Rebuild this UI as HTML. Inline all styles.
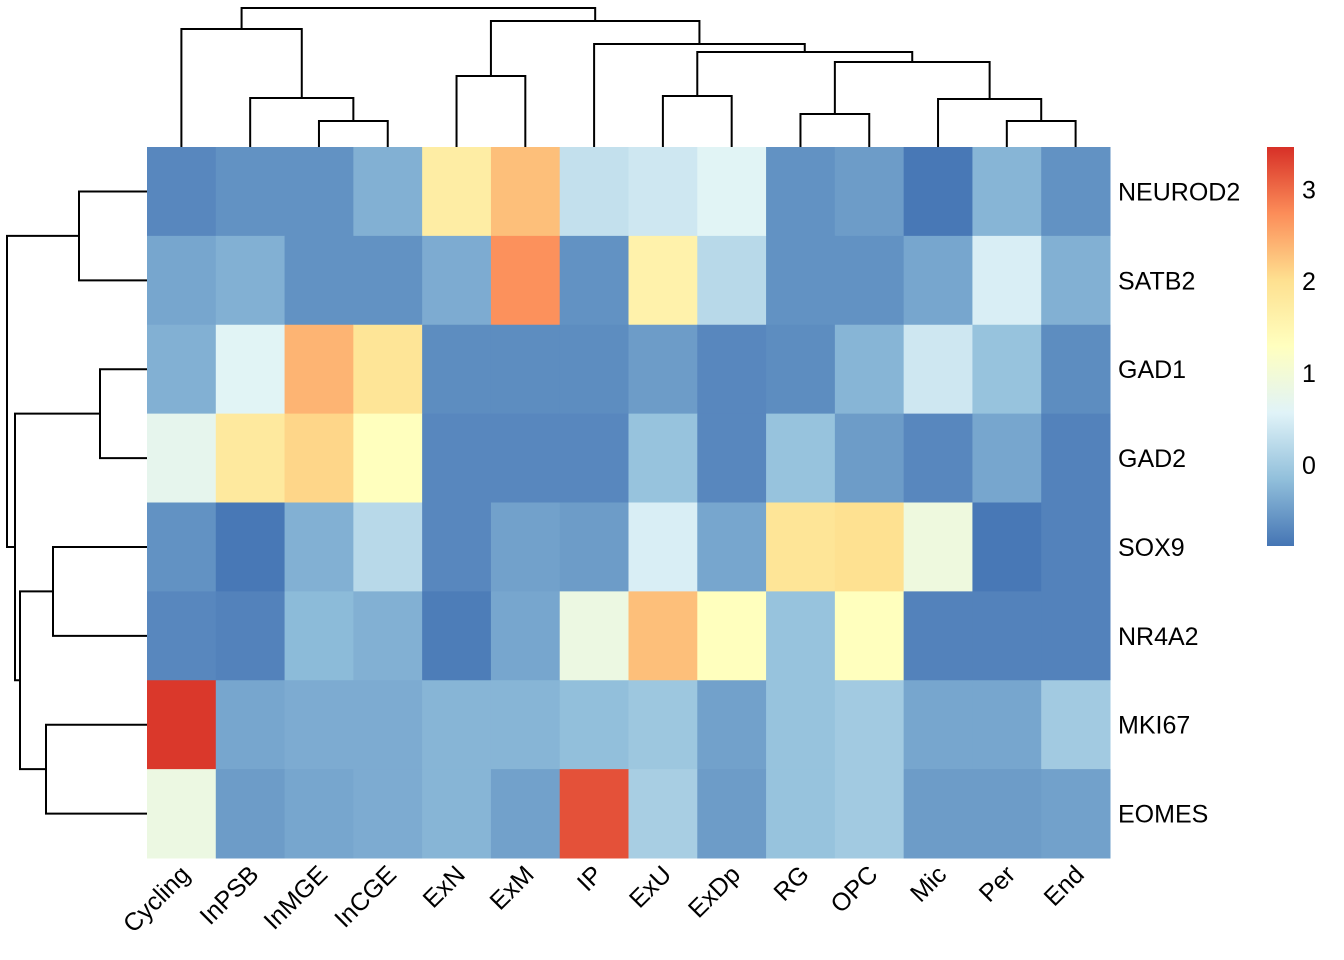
<!DOCTYPE html>
<html><head><meta charset="utf-8"><style>body{margin:0;background:#fff}svg{display:block}text{font-family:"Liberation Sans",Arial,sans-serif;font-size:25px;fill:#000}</style></head>
<body>
<svg id="chart" width="1344" height="960" xmlns="http://www.w3.org/2000/svg">
<defs><linearGradient id="lg" x1="0" y1="1" x2="0" y2="0">
<stop offset="0" stop-color="#4575B4"/><stop offset="0.1667" stop-color="#91BFDB"/><stop offset="0.3333" stop-color="#E0F3F8"/><stop offset="0.5" stop-color="#FFFFBF"/><stop offset="0.6667" stop-color="#FEE090"/><stop offset="0.8333" stop-color="#FC8D59"/><stop offset="1" stop-color="#D73027"/></linearGradient></defs>
<g id="cells"></g>
<g id="dend" stroke="#000" stroke-width="2" fill="none"></g>
<g id="labels"></g>
<rect x="1267" y="147" width="27" height="399" fill="url(#lg)"/>
<g id="legend"></g>
</svg>
<script>
const cols=["Cycling","InPSB","InMGE","InCGE","ExN","ExM","IP","ExU","ExDp","RG","OPC","Mic","Per","End"];
const rows=["NEUROD2","SATB2","GAD1","GAD2","SOX9","NR4A2","MKI67","EOMES"];
const vNEUROD2=[-0.7,-0.6,-0.6,-0.3,1.7,2.3,0.3,0.4,0.6,-0.6,-0.5,-0.85,-0.25,-0.6];
const vSATB2=[-0.4,-0.3,-0.6,-0.6,-0.35,2.7,-0.6,1.6,0.2,-0.6,-0.6,-0.4,0.5,-0.3];
const vGAD1=[-0.3,0.6,2.4,1.9,-0.65,-0.65,-0.65,-0.5,-0.7,-0.65,-0.25,0.4,-0.1,-0.65];
const vGAD2=[0.7,1.8,2.1,1.3,-0.7,-0.7,-0.7,-0.1,-0.7,-0.1,-0.5,-0.7,-0.4,-0.75];
const vSOX9=[-0.6,-0.85,-0.3,0.2,-0.7,-0.45,-0.5,0.5,-0.4,1.9,2.0,0.9,-0.85,-0.75];
const vNR4A2=[-0.7,-0.75,-0.2,-0.3,-0.8,-0.4,0.85,2.3,1.3,-0.1,1.3,-0.75,-0.75,-0.75];
const vMKI67=[3.4,-0.4,-0.35,-0.35,-0.25,-0.25,-0.15,-0.05,-0.45,-0.1,0.0,-0.4,-0.4,0.0];
const vEOMES=[0.85,-0.5,-0.4,-0.35,-0.25,-0.45,3.2,0.05,-0.5,-0.1,0.0,-0.5,-0.5,-0.45];
const values=[vNEUROD2,vSATB2,vGAD1,vGAD2,vSOX9,vNR4A2,vMKI67,vEOMES];
const legendTicks=[0,1,2,3];
const colMerges=[[-3,-4,26],[-2,1,49],[-1,2,118],[-5,-6,71],[-8,-9,51],[-10,-11,33],[-13,-14,26],[-12,7,48],[6,8,85],[5,9,95],[-7,10,103],[4,11,126],[3,12,139]];
const rowMerges=[[-1,-2,68],[-3,-4,47],[-5,-6,94],[-7,-8,101],[3,4,127],[2,5,132],[1,6,140]];
const vmin=-0.88,vmax=3.46;
const X0=147,X1=1110,Y0=147,Y1=858;
const cw=(X1-X0)/cols.length, rh=(Y1-Y0)/rows.length;
const xs=i=>X0+i*cw, ys=j=>Y0+j*rh;
const pal=["#4575B4","#91BFDB","#E0F3F8","#FFFFBF","#FEE090","#FC8D59","#D73027"].map(h=>[1,3,5].map(k=>parseInt(h.substr(k,2),16)));
function col(v){let t=(v-vmin)/(vmax-vmin)*6;t=Math.max(0,Math.min(5.999,t));const i=Math.floor(t),f=t-i;const a=pal[i],b=pal[i+1];return `rgb(${a.map((c,k)=>Math.round(c+(b[k]-c)*f)).join(",")})`;}
const NS="http://www.w3.org/2000/svg";
function mk(t,a,p){const e=document.createElementNS(NS,t);for(const k in a)e.setAttribute(k,a[k]);p.appendChild(e);return e;}
const cg=document.getElementById('cells');
values.forEach((r,j)=>r.forEach((v,i)=>{const e=mk('rect',{x:xs(i),y:ys(j),width:cw+0.5,height:rh+0.5,fill:col(v)},cg);

}));
const dg=document.getElementById('dend');
function drawTree(m,n,leafPos,horizontal){const pos=[],h=[];
m.forEach((mm,k)=>{const g=x=>x<0?[leafPos(-x-1),0]:[pos[x-1],h[x-1]];const[a,ha]=g(mm[0]),[b,hb]=g(mm[1]);const H=mm[2];
let d;const base=147;if(!horizontal){d=`M${a},${base-ha}V${base-H}H${b}V${base-hb}`;}else{d=`M${base-ha},${a}H${base-H}V${b}H${base-hb}`;}
const e=mk('path',{d:d},dg);


pos.push((a+b)/2);h.push(H);});}
drawTree(colMerges,cols.length,i=>xs(i)+cw/2,false);
drawTree(rowMerges,rows.length,j=>ys(j)+rh/2,true);
const lg=document.getElementById('labels');
rows.forEach((r,j)=>{const e=mk('text',{x:1118,y:ys(j)+rh/2+9},lg);e.textContent=r;

});
cols.forEach((c,i)=>{const x=xs(i)+cw/2+10,y=876;const e=mk('text',{x:x,y:y,'text-anchor':'end',transform:`rotate(-45 ${x} ${y})`},lg);e.textContent=c;

});
const leg=document.getElementById('legend');
legendTicks.forEach(t=>{const y=546-(t-vmin)/(vmax-vmin)*399;const e=mk('text',{x:1302,y:y+9},leg);e.textContent=t;

});
</script>
</body></html>
